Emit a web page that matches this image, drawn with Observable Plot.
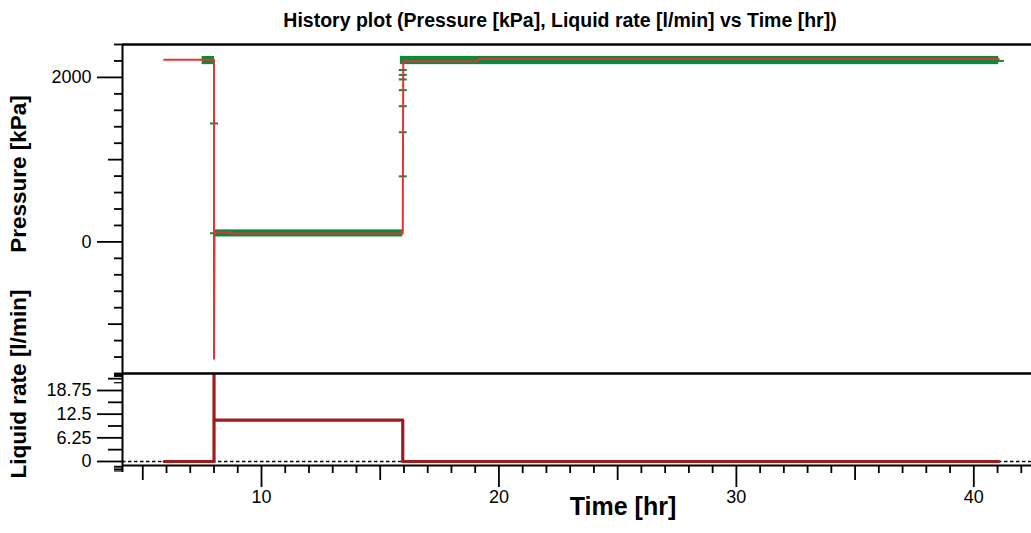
<!DOCTYPE html>
<html>
<head>
<meta charset="utf-8">
<script src="https://cdn.jsdelivr.net/npm/d3@7"></script>
<script src="https://cdn.jsdelivr.net/npm/@observablehq/plot@0.6"></script>
<style>
  body { margin: 0; background: #fff; font-family: "Liberation Sans", Arial, sans-serif; }
  #wrap { position: relative; width: 1031px; height: 533px; overflow: hidden; background: #fff; }
  #wrap svg { position: absolute; left: 0; }
  .lbl { position: absolute; font-weight: bold; white-space: nowrap; color: #000; }
  #title { top: 20px; left: 560px; transform: translate(-50%, -50%); font-size: 19.5px; }
  .ylab { transform: translate(-50%, -50%) rotate(-90deg); font-size: 22.5px; }
  #xlab { top: 506px; left: 623px; transform: translate(-50%, -50%); font-size: 25px; }
</style>
</head>
<body>
<div id="wrap">
  <div id="title" class="lbl">History plot (Pressure [kPa], Liquid rate [l/min] vs Time [hr])</div>
  <div class="lbl ylab" style="left:19px; top:174px;">Pressure [kPa]</div>
  <div class="lbl ylab" style="left:19px; top:384px;">Liquid rate [l/min]</div>
  <div id="xlab" class="lbl">Time [hr]</div>
</div>
<script>
// ---------- data ----------
const timeDomain = [4.146, 42.43];
const pressureDomain = [-1600, 2400];
const rateDomain = [-1.06, 23.24];

// Pressure (red line)
const pressureTime  = [5.9, 8.0, 8.0, 8.02, 8.65, 8.67, 15.95, 15.97, 19.1, 19.15, 41.05];
const pressureValue = [2215, 2215, -1420, 118, 118, 102, 102, 2195, 2195, 2225, 2225];

// Pressure measurement band (green, dense markers)
const bandStart = [7.5, 8.0, 15.85];
const bandEnd   = [8.02, 15.95, 41.05];
const bandLow   = [2155, 60, 2155];
const bandHigh  = [2255, 146, 2255];

// Isolated pressure markers (green dashes)
const markerTime  = [8.0, 8.0, 15.95, 15.95, 15.95, 15.95, 15.95, 15.95, 15.95, 41.1];
const markerValue = [1440, 105, 2090, 2030, 1975, 1845, 1650, 1333, 797, 2200];

// Liquid rate (dark red line)
const rateTime  = [5.9, 8.0, 8.0, 8.0, 15.95, 15.95, 41.05];
const rateValue = [0, 0, 23.0, 10.9, 10.9, 0, 0];

// Ticks
const pressureMajor = [0, 2000];
const pressureMid   = [-1000, 1000];
const pressureMinor = [-1600, -1400, -1200, -800, -600, -400, -200, 200, 400, 600, 800, 1200, 1400, 1600, 1800, 2200, 2400];
const rateMajor = [0, 6.25, 12.5, 18.75];
const rateMid   = [3.125, 9.375, 15.625, 21.875];
const rateMinor = [20.8, 22.5, 22.7, 22.9, 23.1, -1.3, -1.7, -2.1, -2.5];
const timeMajor = [10, 20, 30, 40];
const timeMid   = [5, 15, 25, 35];
const timeMinor = [6, 7, 8, 9, 11, 12, 13, 14, 16, 17, 18, 19, 21, 22, 23, 24, 26, 27, 28, 29, 31, 32, 33, 34, 36, 37, 38, 39, 41, 42];

// ---------- colours ----------
const RED = "#e53232";
const DARKRED = "#a01b1b";
const GREEN = "#0b8a3e";

const pressure = pressureTime.map((t, i) => ({t, v: pressureValue[i]}));
const bands = bandStart.map((s, i) => ({s, e: bandEnd[i], lo: bandLow[i], hi: bandHigh[i]}));
const markers = markerTime.map((t, i) => ({t, v: markerValue[i]}));
const rate = rateTime.map((t, i) => ({t, v: rateValue[i]}));

const dash = { draw(ctx, size) { const w = Math.sqrt(size) * 0.5; ctx.moveTo(-w, 0); ctx.lineTo(w, 0); } };
const font = "'Liberation Sans', Arial, sans-serif";
const blank = () => "";
const FS = 18;

const topPlot = Plot.plot({
  width: 1031, height: 380,
  marginTop: 44, marginBottom: 7, marginLeft: 122, marginRight: 0,
  style: {fontFamily: font, fontSize: FS + "px", background: "transparent", overflow: "visible", color: "#000"},
  x: {domain: timeDomain, axis: null},
  y: {domain: pressureDomain, axis: null},
  marks: [
    Plot.rect(bands, {x1: "s", x2: "e", y1: "lo", y2: "hi", fill: GREEN}),
    Plot.dot(markers, {x: "t", y: "v", symbol: dash, r: 4.5, stroke: GREEN, strokeWidth: 2, fill: "none"}),
    Plot.line(pressure, {x: "t", y: "v", stroke: RED, strokeWidth: 2}),
    Plot.ruleY([pressureDomain[1]], {stroke: "#000", strokeWidth: 2.5}),
    Plot.ruleY([pressureDomain[0]], {stroke: "#000", strokeWidth: 2}),
    Plot.ruleX([timeDomain[0]], {stroke: "#000", strokeWidth: 2}),
    Plot.axisY(pressureMinor, {tickSize: 8, tickFormat: blank, label: null, strokeWidth: 1.8}),
    Plot.axisY(pressureMid, {tickSize: 14, tickFormat: blank, label: null, strokeWidth: 1.8}),
    Plot.axisY(pressureMajor, {tickSize: 25, tickPadding: 6, tickFormat: d => String(d), label: null, strokeWidth: 1.8, fontSize: FS})
  ]
});
topPlot.style.top = "0px";

const bottomPlot = Plot.plot({
  width: 1031, height: 173,
  marginTop: 13, marginBottom: 68, marginLeft: 122, marginRight: 0,
  style: {fontFamily: font, fontSize: FS + "px", background: "transparent", overflow: "visible", color: "#000"},
  x: {domain: timeDomain, axis: null},
  y: {domain: rateDomain, axis: null},
  marks: [
    Plot.ruleY([0], {stroke: "#000", strokeWidth: 1.3, strokeDasharray: "3.5,2.5"}),
    Plot.line(rate, {x: "t", y: "v", stroke: DARKRED, strokeWidth: 3.2}),
    Plot.ruleY([rateDomain[1]], {stroke: "#000", strokeWidth: 2}),
    Plot.ruleY([rateDomain[0]], {stroke: "#000", strokeWidth: 2}),
    Plot.ruleX([timeDomain[0]], {y1: -2.9, y2: rateDomain[1], stroke: "#000", strokeWidth: 2}),
    Plot.axisY(rateMinor, {tickSize: 8, tickFormat: blank, label: null, strokeWidth: 1.2}),
    Plot.axisY(rateMid, {tickSize: 14, tickFormat: blank, label: null, strokeWidth: 1.8}),
    Plot.axisY(rateMajor, {tickSize: 25, tickPadding: 6, tickFormat: d => String(d), label: null, strokeWidth: 1.8, fontSize: FS}),
    Plot.axisX(timeMinor, {anchor: "bottom", tickSize: 8, tickFormat: blank, label: null, strokeWidth: 1.8}),
    Plot.axisX(timeMid, {anchor: "bottom", tickSize: 15, tickFormat: blank, label: null, strokeWidth: 1.8}),
    Plot.axisX(timeMajor, {anchor: "bottom", tickSize: 22, tickPadding: 3, tickFormat: d => String(d), label: null, strokeWidth: 1.8, fontSize: FS})
  ]
});
bottomPlot.style.top = "360px";

for (const svg of [topPlot, bottomPlot]) {
  d3.select(svg).selectAll("g").filter(function () { return this.hasAttribute("font-size"); }).attr("font-size", FS);
  d3.select(svg).selectAll("text")
    .attr("font-size", FS)
    .style("font-size", FS + "px")
    .style("font-family", font)
    .attr("fill", "#000");
}

const wrap = document.getElementById("wrap");
wrap.appendChild(topPlot);
wrap.appendChild(bottomPlot);
</script>
</body>
</html>
